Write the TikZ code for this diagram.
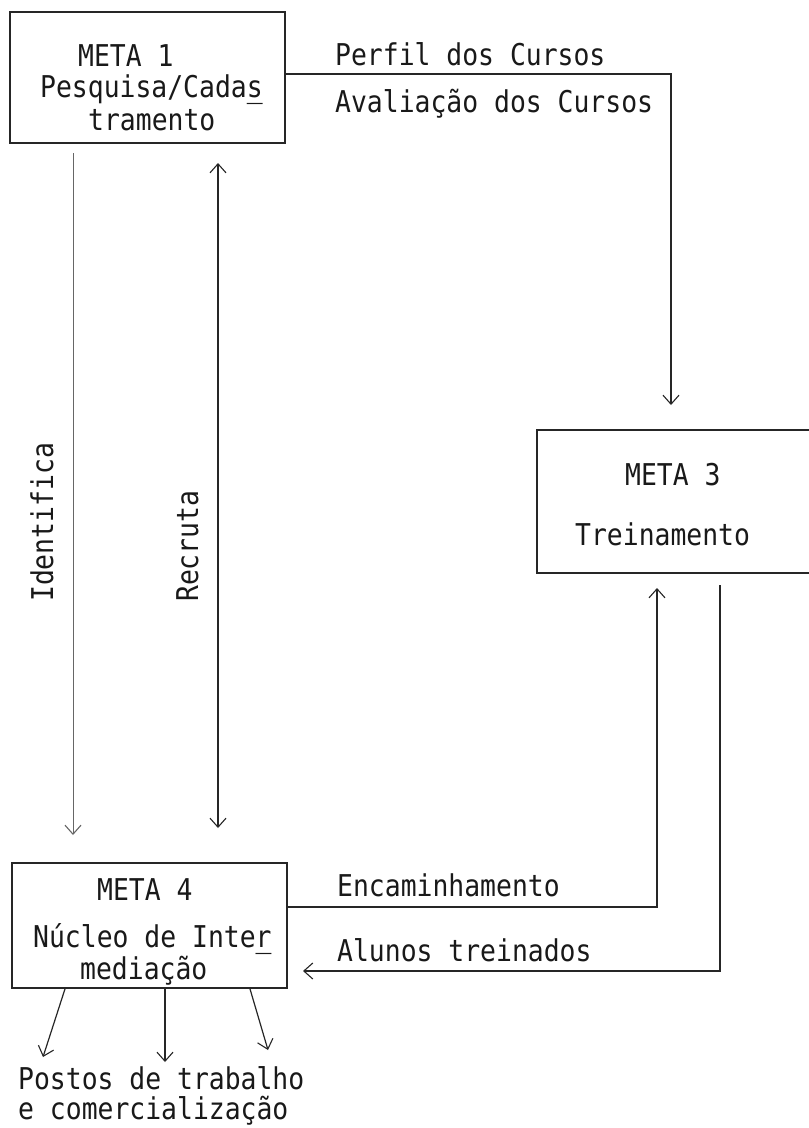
\documentclass[tikz,border=0pt]{standalone}
\usepackage{fontspec}
\usetikzlibrary{arrows.meta}
\newfontfamily\typewfam{DejaVu Sans Mono}[FakeStretch=0.88]
\newcommand\typew{\fontsize{30}{34}\selectfont\typewfam}
\tikzset{
  boxframe/.style={draw=black!85, line width=1.8pt, inner sep=0, rectangle},
  conn/.style={draw=black!85, line width=1.2pt},
  barb/.tip={Straight Barb[length=9pt,width=16pt,line width=1.1pt]},
  arr/.style={-barb},
  darr/.style={barb-barb},
  txt/.style={inner sep=0, anchor=base west, font=\typew, text=black!90},
}
\begin{document}
\begin{tikzpicture}[x=1pt,y=-1pt]
\useasboundingbox[fill=white] (0,0) rectangle (809,1128);

% boxes
\node[boxframe, minimum width=275pt, minimum height=131pt] (box1) at (147.5,77.5) {};
\node[inner sep=0, minimum width=272pt, minimum height=143pt] (box3) at (673,501.5) {};
\draw[black!85, line width=1.8pt] (box3.north east) -- (box3.north west) -- (box3.south west) -- (box3.south east);
\node[boxframe, minimum width=275pt, minimum height=125pt] (box4) at (149.5,925.5) {};

% box texts
\node[txt] (m1a) at (78,66) {META 1};
\node[txt] (m1b) at (40,97) {Pesquisa/Cada\makebox[0pt][l]{\_}s};
\node[txt] (m1c) at (88,130) {tramento};

\node[txt] (m3a) at (625,485) {META 3};
\node[txt] (m3b) at (575,545) {Treinamento};

\node[txt] (m4a) at (97,900) {META 4};
\node[txt] (m4b) at (33,947) {Núcleo de Inte\makebox[0pt][l]{\_}r};
\node[txt] (m4c) at (80,979) {mediação};

% connector labels
\node[txt] (lperf) at (335,65) {Perfil dos Cursos};
\node[txt] (laval) at (335,112) {Avaliação dos Cursos};
\node[txt] (lenc) at (337,896) {Encaminhamento};
\node[txt] (lalu) at (337,961) {Alunos treinados};
\node[txt, rotate=90] (lident) at (53,602) {Identifica};
\node[txt, rotate=90] (lrecr) at (198,602) {Recruta};
\node[txt] (lpost1) at (18,1089) {Postos de trabalho};
\node[txt] (lpost2) at (18,1119) {e comercialização};

% coordinates
\coordinate (k1) at (671,74);
\coordinate (t1) at (671,405);
\coordinate (ida) at (73,153);
\coordinate (idb) at (73,835);
\coordinate (rea) at (218,163);
\coordinate (reb) at (218,828);
\coordinate (k4) at (657,907);
\coordinate (t4) at (657,588);
\coordinate (s5) at (720,585);
\coordinate (k5) at (720,971);
\coordinate (t5) at (303,971);
\coordinate (p1) at (43,1057);
\coordinate (p2) at (165,1062);
\coordinate (p3) at (268,1050);

% connectors
\draw[conn, arr] (box1.east |- k1) -- (k1) -- (t1);
\draw[conn, arr, draw=black!60, line width=1pt] (ida) -- (idb);
\draw[conn, darr] (rea) -- (reb);
\draw[conn, arr] (box4.east |- k4) -- (k4) -- (t4);
\draw[conn, arr] (s5) -- (k5) -- (t5);
\draw[conn, arr] (box4.south west -| 65,0) -- (p1);
\draw[conn, arr] (box4.south west -| 165,0) -- (p2);
\draw[conn, arr] (box4.south west -| 250,0) -- (p3);
\end{tikzpicture}
\end{document}
